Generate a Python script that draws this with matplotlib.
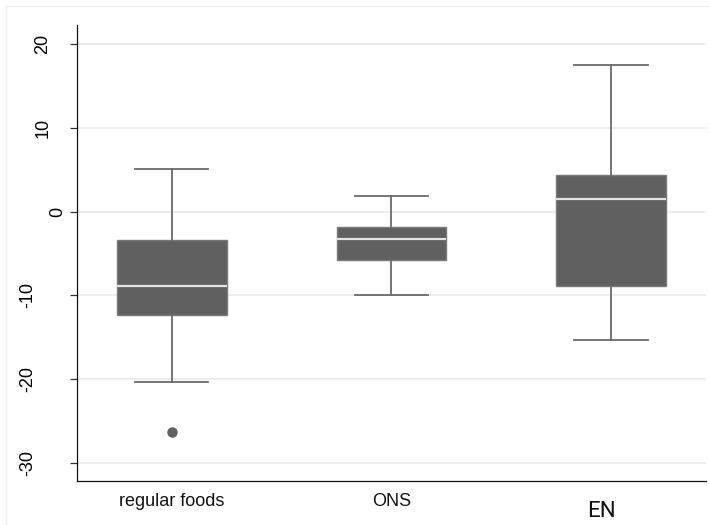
import matplotlib
matplotlib.use("Agg")
import matplotlib.pyplot as plt
from matplotlib.lines import Line2D

# ---- data ----
categories = ["regular foods", "ONS", "EN"]
medians = [-8.94, -3.29, 1.48]
q1 = [-12.32, -5.84, -8.94]
q3 = [-3.38, -1.79, 4.38]
whisk_lo = [-20.27, -9.90, -15.34]
whisk_hi = [5.09, 1.83, 17.46]
outliers = [[-26.23], [], []]
yticks = [-30, -20, -10, 0, 10, 20]
ytick_labels = ["-30", "-20", "-10", "0", "10", "20"]

plt.rcParams['font.family'] = ['Liberation Sans', 'DejaVu Sans']
plt.rcParams['axes.unicode_minus'] = False

fig = plt.figure(figsize=(7.1, 5.25), dpi=100)
ax = fig.add_axes([0.1089, 0.0832, 0.9939 - 0.1089, 0.9524 - 0.0832])

stats = []
for i, c in enumerate(categories):
    stats.append(dict(label=c, med=medians[i], q1=q1[i], q3=q3[i],
                      whislo=whisk_lo[i], whishi=whisk_hi[i],
                      fliers=outliers[i]))

positions = list(range(1, len(categories) + 1))
ax.bxp(stats, positions=positions, widths=0.5, patch_artist=True,
       showfliers=True,
       boxprops=dict(facecolor='#606060', edgecolor='#7a7a7a', linewidth=1.0),
       medianprops=dict(color='#e4e4e4', linewidth=1.6),
       whiskerprops=dict(color='#6a6a6a', linewidth=1.3),
       capprops=dict(color='#6a6a6a', linewidth=1.3),
       capwidths=0.333,
       flierprops=dict(marker='o', markerfacecolor='#606060',
                       markeredgecolor='#606060', markersize=6.5),
       zorder=3)

ax.set_xlim(0.569, 3.431)
ax.set_ylim(-32.17, 22.24)

ax.set_yticks(yticks)
ax.set_yticklabels(ytick_labels, rotation=90, va='center', fontsize=13)
ax.tick_params(axis='y', length=5.3, width=0.9, color='#333333', direction='out')
ax.yaxis.grid(True, color='#e8e8e8', linewidth=1.1, zorder=0)
ax.set_axisbelow(True)

# per-label pads (rotated labels sit at different offsets in the reference)
pad_by_len = {1: 2.8, 2: 13.3, 3: 24.0}
for tick, lab in zip(ax.yaxis.get_major_ticks(), ytick_labels):
    tick.set_pad(pad_by_len[len(lab)])

ax.set_xticks(positions)
ax.set_xticklabels(categories[:2] + [""], fontsize=13, color='#111111')
ax.tick_params(axis='x', length=0, pad=8.3)

# third category label drawn in a different font, slightly offset (as in reference)
ax.annotate(categories[2], xy=(positions[2], 0), xycoords=('data', 'axes fraction'),
            xytext=(-7.2, -14.0), textcoords='offset points',
            ha='center', va='top', fontsize=16, family=['Roboto', 'DejaVu Sans'],
            color='#111111')

for s in ['top', 'right']:
    ax.spines[s].set_visible(False)
for s in ['left', 'bottom']:
    ax.spines[s].set_linewidth(0.9)
    ax.spines[s].set_color('#111111')

# faint outer frame edges
fig.add_artist(Line2D([6 / 710, 1], [1 - 6 / 525, 1 - 6 / 525], color='#eeeeee', lw=1))
fig.add_artist(Line2D([6 / 710, 6 / 710], [0, 1 - 6 / 525], color='#eeeeee', lw=1))

fig.savefig("out.png", dpi=100)
